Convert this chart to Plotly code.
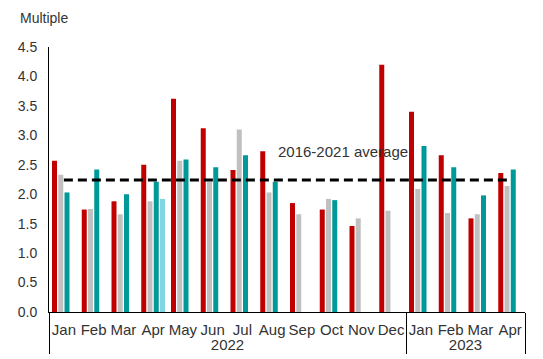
import plotly.graph_objects as go

# categories
years = ["2022"] * 12 + ["2023"] * 4
months = ["Jan", "Feb", "Mar", "Apr", "May", "Jun", "Jul", "Aug", "Sep", "Oct", "Nov", "Dec",
          "Jan", "Feb", "Mar", "Apr"]

# series values (multiple)
red_vals = [2.57, 1.74, 1.88, 2.50, 3.62, 3.12, 2.41, 2.73, 1.85, 1.74, 1.46, 4.20,
            3.40, 2.66, 1.59, 2.36]
grey_vals = [2.33, 1.75, 1.66, 1.88, 2.57, 2.21, 3.10, 2.03, 1.66, 1.92, 1.59, 1.72,
             2.09, 1.68, 1.66, 2.14]
teal_vals = [2.03, 2.42, 2.00, 2.21, 2.59, 2.46, 2.66, 2.21, None, 1.90, None, None,
             2.82, 2.46, 1.98, 2.42]
light_vals = [None, None, None, 1.92, None, None, None, None, None, None, None, None,
              None, None, None, None]
avg_vals = [2.24] * 16

y_ticks = [0, 0.5, 1, 1.5, 2, 2.5, 3, 3.5, 4, 4.5]

font = "Liberation Sans, Arial, sans-serif"
txt = "#333333"

x = [years, months]
fig = go.Figure()
for vals, col in [(red_vals, "#C00000"), (grey_vals, "#C0C0C0"),
                  (teal_vals, "#009999"), (light_vals, "#80D6E2")]:
    fig.add_trace(go.Bar(x=x, y=vals, marker_color=col, marker_line_width=0,
                         showlegend=False))

fig.add_trace(go.Scatter(x=x, y=avg_vals, mode="lines", showlegend=False,
                         line=dict(color="black", width=3, dash="9px,5px")))

# the page body adds an 8px offset, so margins are shifted to compensate
fig.update_layout(
    width=543, height=359,
    margin=dict(l=41, r=26, t=39, b=55),
    paper_bgcolor="white",
    plot_bgcolor="white",
    barmode="group",
    bargap=0.16,
    bargroupgap=0.2,
    font=dict(family=font, size=14, color=txt),
    annotations=[
        dict(text="Multiple", xref="paper", yref="paper", x=-0.065, y=1.109,
             xanchor="left", yanchor="middle", showarrow=False,
             font=dict(size=14, color=txt)),
        dict(text="2016-2021 average", xref="paper", yref="paper", x=0.618, y=0.604,
             xanchor="center", yanchor="middle", showarrow=False,
             font=dict(size=15, color=txt)),
    ],
)
fig.update_yaxes(range=[0, 4.5], tickvals=y_ticks, tickformat=".1f",
                 showgrid=False, zeroline=False, showline=True, linecolor="black",
                 linewidth=1, ticks="", ticklabelstandoff=8, automargin=False,
                 tickfont=dict(size=14, color=txt))
fig.update_xaxes(type="multicategory", showgrid=False, showline=True,
                 linecolor="black", linewidth=1, ticks="", tickangle=0,
                 automargin=False, ticklabelstandoff=4,
                 showdividers=True, dividercolor="black", dividerwidth=1,
                 tickfont=dict(size=15, color=txt))

fig.write_html("out.html")
